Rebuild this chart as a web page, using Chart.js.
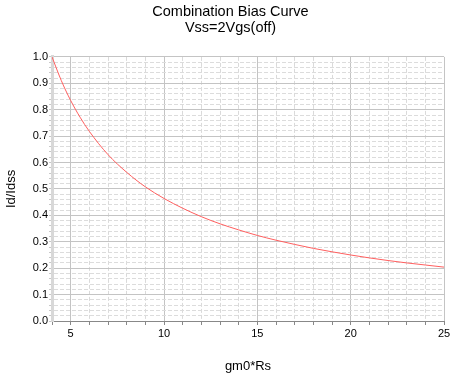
<!DOCTYPE html>
<html>
<head>
<meta charset="utf-8">
<script src="https://cdn.jsdelivr.net/npm/chart.js@4.4.0/dist/chart.umd.min.js"></script>
<style>
  html, body { margin: 0; padding: 0; background: #fff; }
  #wrap { width: 461px; height: 386px; }
</style>
</head>
<body>
<div id="wrap"><canvas id="grafico" width="461" height="386"></canvas></div>
<script>
// valores (gm0*Rs -> Id/Idss)
const gmRs = [4, 4.5, 5, 5.5, 6, 7, 8, 9, 10, 11, 12, 13, 14, 15, 16, 17, 18, 19, 20, 21, 22, 23, 24, 25];
const idIdss = [1.0, 0.91, 0.835, 0.772, 0.718, 0.630, 0.563, 0.508, 0.464, 0.427, 0.395, 0.368, 0.345, 0.324, 0.306, 0.290, 0.275, 0.262, 0.250, 0.239, 0.229, 0.220, 0.212, 0.204];
const titulo = ['Combination Bias Curve', 'Vss=2Vgs(off)'];
const tituloX = 'gm0*Rs';
const tituloY = 'Id/Idss';

const fuente = 'Liberation Sans, Arial, sans-serif';

function esMayor(v, paso) {
    return Math.abs(v / paso - Math.round(v / paso)) < 1e-6;
}

const puntos = gmRs.map((x, i) => ({ x: x, y: idIdss[i] }));

const ctx = document.getElementById('grafico').getContext('2d');
const grafico = new Chart(ctx, {
    type: 'line',
    data: {
    datasets: [{
        data: puntos,
        borderColor: 'rgb(255, 95, 95)',
        borderWidth: 1,
        pointRadius: 0,
        fill: false,
        cubicInterpolationMode: 'monotone'
    }]
    },
    options: {
    responsive: false,
    animation: false,
    layout: { padding: 0 },
    plugins: {
        legend: { display: false },
        tooltip: { enabled: false },
        title: {
        display: true,
        text: titulo,
        color: '#000',
        font: { family: fuente, size: 14.5, weight: 'normal', lineHeight: 1.1 },
        padding: { top: 4, bottom: 21 }
        }
    },
    scales: {
        x: {
        type: 'linear',
        min: 4,
        max: 25,
        ticks: {
            stepSize: 1,
            autoSkip: false,
            maxRotation: 0,
            color: '#000',
            font: { family: fuente, size: 11 },
            padding: 2,
            callback: (v) => esMayor(v, 5) ? String(v) : ''
        },
        grid: {
            color: (c) => (c.tick && esMayor(c.tick.value, 5)) ? '#c4c4c4' : '#dadada',
            tickColor: '#888',
            tickLength: 4
        },
        border: {
            display: true,
            color: '#888',
            width: 1,
            dash: (c) => (c.tick && !esMayor(c.tick.value, 5)) ? [4, 2] : []
        },
        title: {
            display: true,
            text: tituloX,
            color: '#000',
            font: { family: fuente, size: 13 },
            padding: { top: 14, bottom: 12 }
        },
        afterFit: (s) => { s.height = 65; }
        },
        y: {
        min: 0,
        max: 1,
        ticks: {
            stepSize: 0.02,
            autoSkip: false,
            color: '#000',
            font: { family: fuente, size: 11 },
            padding: 1,
            callback: (v) => esMayor(v, 0.1) ? v.toFixed(1) : ''
        },
        grid: {
            color: (c) => (c.tick && esMayor(c.tick.value, 0.1)) ? '#c4c4c4' : '#dcdcdc',
            tickColor: '#c8c8c8',
            tickLength: 3
        },
        border: {
            display: true,
            color: '#d8d8d8',
            width: 3,
            dash: (c) => (c.tick && !esMayor(c.tick.value, 0.1)) ? [4, 2] : []
        },
        title: {
            display: true,
            text: tituloY,
            color: '#000',
            font: { family: fuente, size: 13 },
            padding: { top: 4, bottom: 6 }
        },
        afterFit: (s) => { s.width = 52; }
        },
        derecha: {
        position: 'right',
        display: true,
        ticks: { display: false },
        grid: { display: false, drawTicks: false },
        border: { display: false },
        afterFit: (s) => { s.width = 17; }
        }
    }
    }
});
</script>
</body>
</html>
